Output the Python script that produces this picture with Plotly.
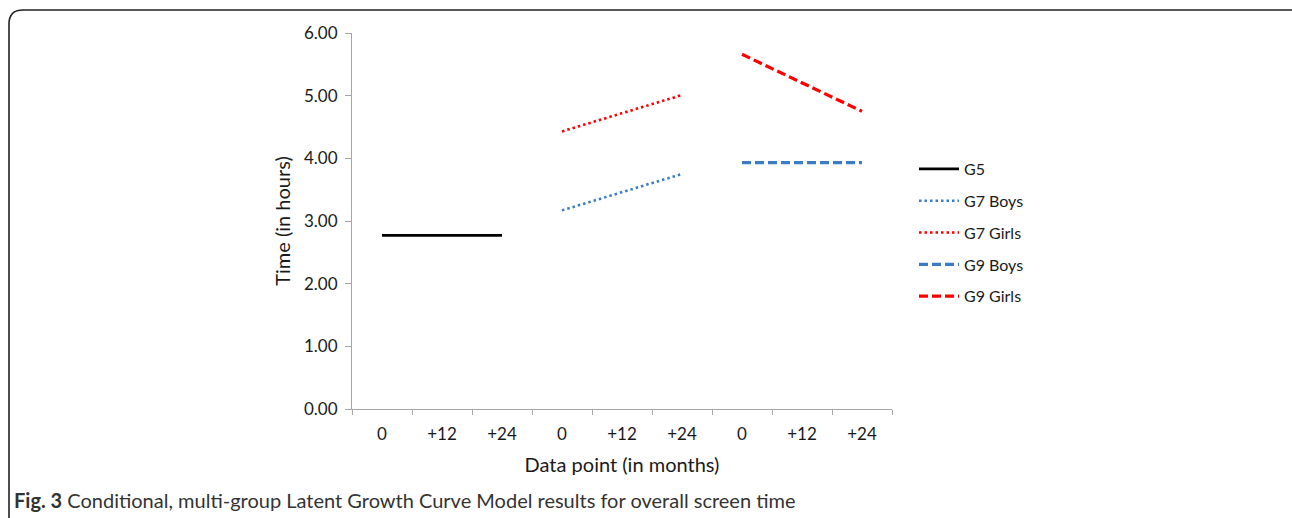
import plotly.graph_objects as go

categories = ["0", "+12", "+24", "0", "+12", "+24", "0", "+12", "+24"]
series_names = ["G5", "G7 Boys", "G7 Girls", "G9 Boys", "G9 Girls"]
g5 = [2.77, 2.77, 2.77, None, None, None, None, None, None]
g7_boys = [None, None, None, 3.17, 3.46, 3.75, None, None, None]
g7_girls = [None, None, None, 4.43, 4.72, 5.01, None, None, None]
g9_boys = [None, None, None, None, None, None, 3.93, 3.93, 3.93]
g9_girls = [None, None, None, None, None, None, 5.66, 5.21, 4.75]
y_ticks = [0, 1, 2, 3, 4, 5, 6]

W, H = 1292, 518
L, R, T, B = 352, 892, 33, 409
pw, ph = R - L, B - T

def px(x):
    return (x - L) / pw

def py(y):
    return (B - y) / ph

xs = list(range(1, len(categories) + 1))
styles = [
    dict(color="#000000", width=2.6, dash="solid"),
    dict(color="#3B7DC4", width=2.6, dash="2.5px,3px"),
    dict(color="#FF0000", width=2.6, dash="2.5px,3px"),
    dict(color="#3B7DC4", width=3.2, dash="9px,4px"),
    dict(color="#FF0000", width=3.2, dash="9px,4px"),
]
data = [g5, g7_boys, g7_girls, g9_boys, g9_girls]

fig = go.Figure()
for i, (name, vals, st) in enumerate(zip(series_names, data, styles)):
    fig.add_trace(go.Scatter(x=xs, y=vals, mode="lines", name=name, line=st,
                             legendgroup=f"g{i}", connectgaps=False))

font_family = "Lato, 'Open Sans', sans-serif"

fig.update_layout(
    width=W, height=H,
    margin=dict(l=L, r=W - R, t=T, b=H - B, pad=0),
    paper_bgcolor="white", plot_bgcolor="white",
    font=dict(family=font_family, size=17, color="#1a1a1a"),
    showlegend=True,
    legend=dict(x=px(914), y=py(152), xanchor="left", yanchor="top",
                font=dict(size=16, color="#1a1a1a"), tracegroupgap=8,
                bgcolor="rgba(0,0,0,0)", itemwidth=40),
    xaxis=dict(range=[0.5, len(categories) + 0.5], tickmode="array", tickvals=xs,
               ticktext=categories, ticks="", showgrid=False, zeroline=False,
               showline=True, linecolor="#A6A6A6", linewidth=1,
               tickfont=dict(size=17), ticklabelstandoff=10,
               minor=dict(tickmode="array", tickvals=[x + 0.5 for x in [0] + xs],
                          ticks="outside", ticklen=5, tickcolor="#A6A6A6", showgrid=False),
               title=dict(text="Data point (in months)", font=dict(size=20), standoff=14)),
    yaxis=dict(range=[0, 6], tickmode="array", tickvals=y_ticks,
               ticktext=[f"{v:.2f}" for v in y_ticks], ticks="outside", ticklen=6,
               tickcolor="#A6A6A6", showgrid=False, zeroline=False,
               showline=True, linecolor="#A6A6A6", linewidth=1,
               tickfont=dict(size=17), ticklabelstandoff=4,
               title=dict(text="Time (in hours)", font=dict(size=20), standoff=8)),
)

# rounded frame
x0, y0, x1, y1, r = 9, 10, 1305, 540, 14
path = (f"M {px(x0)},{py(y1)} L {px(x0)},{py(y0 + r)} "
        f"Q {px(x0)},{py(y0)} {px(x0 + r)},{py(y0)} "
        f"L {px(x1 - r)},{py(y0)} Q {px(x1)},{py(y0)} {px(x1)},{py(y0 + r)} "
        f"L {px(x1)},{py(y1)}")
fig.add_shape(type="path", path=path, xref="paper", yref="paper",
              line=dict(color="#222222", width=1.6), layer="above")

fig.add_annotation(x=px(12), y=py(500), xref="paper", yref="paper",
                   xanchor="left", yanchor="middle", showarrow=False,
                   text="<b>Fig. 3</b> Conditional, multi-group Latent Growth Curve Model results for overall screen time",
                   font=dict(family="Lato, 'Open Sans', sans-serif", size=20, color="#333333"))

fig.write_html("out.html")
